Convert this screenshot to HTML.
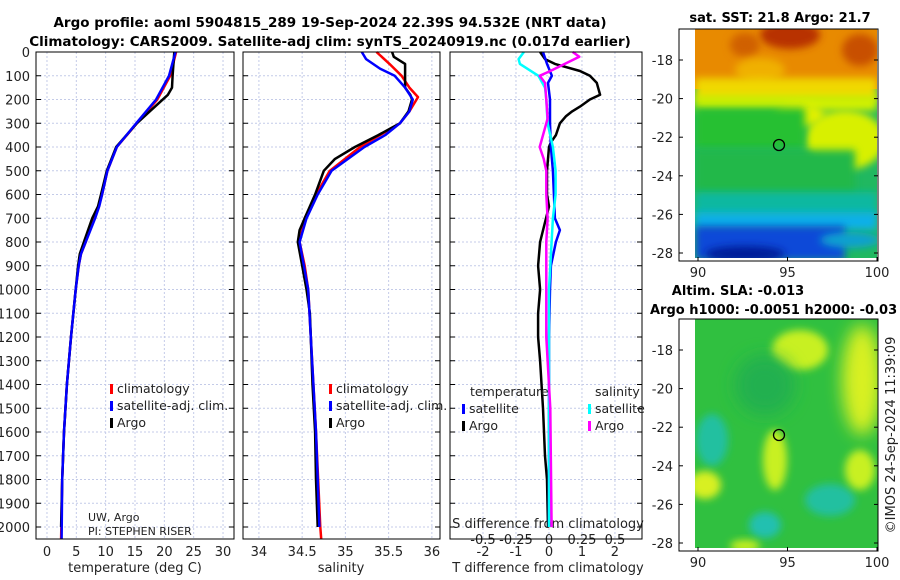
<!DOCTYPE html>
<html><head><meta charset="utf-8"><style>
body{margin:0;background:#fff;}
svg{display:block;font-family:"DejaVu Sans","Liberation Sans",sans-serif;}
</style></head><body>
<svg id="c" width="900" height="580" viewBox="0 0 900 580">
<defs>
<filter id="bl" x="-50%" y="-50%" width="200%" height="200%"><feGaussianBlur stdDeviation="4"/></filter>
<filter id="bl2" x="-50%" y="-50%" width="200%" height="200%"><feGaussianBlur stdDeviation="8"/></filter>
<clipPath id="m1"><rect x="695" y="29" width="182" height="229"/></clipPath>
<clipPath id="m2"><rect x="695" y="319" width="183" height="229"/></clipPath>
</defs>
<text x="330" y="27" text-anchor="middle" font-size="13.5" font-weight="bold">Argo profile: aoml 5904815_289 19-Sep-2024 22.39S 94.532E (NRT data)</text>
<text x="330" y="46" text-anchor="middle" font-size="13.5" font-weight="bold">Climatology: CARS2009. Satellite-adj clim: synTS_20240919.nc (0.017d earlier)</text>
<g id="maps">
<g clip-path="url(#m1)">
<rect x="695" y="29" width="182" height="229" fill="#20b860"/>
<rect x="695" y="29" width="182" height="60" fill="#e88a00"/>
<ellipse cx="790" cy="35" rx="30" ry="14" fill="#b83000" filter="url(#bl)"/>
<ellipse cx="745" cy="45" rx="15" ry="12" fill="#d06000" filter="url(#bl)"/>
<ellipse cx="860" cy="50" rx="18" ry="16" fill="#c85000" filter="url(#bl)"/>
<ellipse cx="760" cy="70" rx="25" ry="12" fill="#f0b000" filter="url(#bl)"/>
<rect x="695" y="78" width="182" height="24" fill="#f0d800" filter="url(#bl)"/>
<rect x="695" y="95" width="182" height="16" fill="#d0f000" filter="url(#bl)"/>
<ellipse cx="845" cy="140" rx="40" ry="30" fill="#d8f000" filter="url(#bl)"/>
<ellipse cx="800" cy="115" rx="25" ry="12" fill="#e0f000" filter="url(#bl)"/>
<rect x="695" y="108" width="110" height="40" fill="#28c030" filter="url(#bl)"/>
<rect x="695" y="150" width="160" height="45" fill="#20b848" filter="url(#bl)"/>
<rect x="695" y="192" width="182" height="25" fill="#10b8a0" filter="url(#bl)"/>
<rect x="695" y="212" width="182" height="18" fill="#10b0e8" filter="url(#bl)"/>
<rect x="695" y="226" width="150" height="34" fill="#1048d8" filter="url(#bl)"/>
<ellipse cx="745" cy="254" rx="40" ry="8" fill="#001c98" filter="url(#bl)"/>
<ellipse cx="850" cy="240" rx="30" ry="8" fill="#10a0d0" filter="url(#bl)"/>
</g>
<g clip-path="url(#m2)">
<rect x="695" y="319" width="183" height="229" fill="#30c040"/>
<ellipse cx="800" cy="350" rx="28" ry="20" fill="#c8f020" filter="url(#bl)"/>
<ellipse cx="862" cy="380" rx="20" ry="55" fill="#d8f020" filter="url(#bl2)"/>
<ellipse cx="765" cy="385" rx="30" ry="30" fill="#20b050" filter="url(#bl2)"/>
<ellipse cx="712" cy="440" rx="16" ry="26" fill="#20c0a0" filter="url(#bl)"/>
<ellipse cx="775" cy="460" rx="12" ry="30" fill="#c8f020" filter="url(#bl)"/>
<ellipse cx="705" cy="485" rx="16" ry="14" fill="#d8f020" filter="url(#bl)"/>
<ellipse cx="830" cy="500" rx="25" ry="16" fill="#20c0a0" filter="url(#bl)"/>
<ellipse cx="765" cy="525" rx="16" ry="13" fill="#20c0b0" filter="url(#bl)"/>
<ellipse cx="745" cy="546" rx="15" ry="6" fill="#c8f020" filter="url(#bl)"/>
<ellipse cx="860" cy="470" rx="15" ry="20" fill="#c8f020" filter="url(#bl)"/>
</g>
<rect x="679" y="29" width="199" height="232" fill="none" stroke="#000"/>
<rect x="679" y="319" width="199" height="232" fill="none" stroke="#000"/>
<circle cx="779" cy="145" r="5.5" fill="none" stroke="#000" stroke-width="1.3"/>
<circle cx="779" cy="435" r="5.5" fill="none" stroke="#000" stroke-width="1.3"/>
<text x="780" y="22" text-anchor="middle" font-size="13" font-weight="bold">sat. SST: 21.8 Argo: 21.7</text>
<text x="738" y="295" text-anchor="middle" font-size="13" font-weight="bold">Altim. SLA: -0.013</text>
<text x="650" y="314" font-size="13" font-weight="bold">Argo h1000: -0.0051 h2000: -0.03</text>
<text transform="translate(895,435) rotate(-90)" text-anchor="middle" font-size="13" fill="#222">©IMOS 24-Sep-2024 11:39:09</text>
</g>
</svg>
<script>
// ---- data ----
const depthTicks=[0,100,200,300,400,500,600,700,800,900,1000,1100,1200,1300,1400,1500,1600,1700,1800,1900,2000];
const tTicks=[0,5,10,15,20,25,30];
const sTicks=[34,34.5,35,35.5,36];
const sTickLabels=["34","34.5","35","35.5","36"];
const dTTicks=[-2,-1,0,1,2];
const dSTicks=[-0.5,-0.25,0,0.25,0.5];
const dSTickLabels=["-0.5","-0.25","0","0.25","0.5"];
const argoTDepth=[0,100,150,180,250,300,400,500,600,650,700,800,850,900,1000,1200,1400,1600,1800,2000];
const argoT=[21.7,21.4,21.3,20.6,17.5,15.3,11.8,10.2,9.2,8.7,7.7,6.3,5.6,5.3,4.9,4.1,3.4,2.9,2.6,2.4];
const climTDepth=[0,100,200,300,400,500,600,650,700,800,850,900,1000,1200,1400,1600,1800,2050];
const climT=[22.0,21.0,18.8,15.3,11.9,10.3,9.4,8.8,8.0,6.6,5.8,5.4,4.9,4.1,3.4,2.9,2.6,2.4];
const satT=[21.9,20.8,18.6,15.2,11.9,10.3,9.4,8.9,8.2,6.6,5.8,5.4,4.9,4.1,3.4,2.9,2.6,2.5];
const argoSDepth=[0,20,50,100,150,180,200,250,300,350,400,450,500,600,700,750,800,900,1000,1100,1200,1400,1600,1800,2000];
const argoS=[35.54,35.56,35.69,35.69,35.69,35.75,35.77,35.73,35.63,35.38,35.11,34.88,34.75,34.65,34.53,34.47,34.45,34.50,34.55,34.59,34.60,34.62,34.65,34.66,34.68];
const climSDepth=[0,50,100,150,190,250,300,350,400,500,600,700,800,900,1000,1200,1600,2000,2050];
const climS=[35.36,35.51,35.65,35.74,35.84,35.74,35.63,35.40,35.17,34.82,34.66,34.53,34.47,34.53,34.57,34.60,34.66,34.71,34.72];
const satSDepth=[0,30,70,100,150,200,250,300,350,400,500,600,700,800,900,1000,1600,2000];
const satS=[35.19,35.24,35.40,35.57,35.69,35.78,35.74,35.63,35.46,35.22,34.84,34.68,34.55,34.47,34.52,34.57,34.66,34.70];
const dTArgoDepth=[0,30,50,80,100,130,180,200,230,250,270,300,350,380,400,500,600,650,700,800,900,1000,1100,1200,1300,1500,1700,1800,2000];
const dTArgo=[-0.27,-0.12,0.18,0.94,1.24,1.45,1.55,1.24,0.94,0.70,0.52,0.33,0.21,0.06,0,-0.06,-0.06,0,-0.09,-0.27,-0.33,-0.27,-0.33,-0.33,-0.27,-0.18,-0.12,-0.06,-0.03];
const dTSatDepth=[0,50,100,130,200,300,400,500,600,700,750,800,900,1000,1200,1500,2000];
const dTSat=[-0.18,-0.06,0.09,-0.03,0.03,0.03,0.06,0.12,0.15,0.18,0.33,0.21,0.06,0.03,0,0,0];
const dSSatDepth=[0,30,50,100,150,200,300,400,500,600,700,800,900,1000,1500,2000];
const dSSat=[-0.19,-0.23,-0.22,-0.08,-0.03,-0.02,-0.01,0.03,0.05,0.05,0.03,0.02,0.01,0,0,0];
const dSArgoDepth=[0,20,50,80,100,130,200,280,300,400,450,500,600,700,800,1000,1200,1500,2000];
const dSArgo=[0.18,0.23,0.12,0.01,-0.07,-0.03,-0.02,-0.01,-0.02,-0.07,-0.04,-0.02,-0.02,-0.01,-0.02,-0.02,-0.02,0.01,0.02];
const mapLatTicks=[-18,-20,-22,-24,-26,-28];
const mapLonTicks=[90,95,100];
// ---- layout ----
const NS="http://www.w3.org/2000/svg";
const svg=document.getElementById('c');
const Y0=52,Y1=539;
const y=d=>Y0+d*(527-52)/2000;
const panels=[{x0:36,x1:234,lo:-1.87,hi:31.87},{x0:243,x1:440,lo:33.816,hi:36.094},{x0:450,x1:642,lo:-3.0,hi:2.82}];
const sx=(p,v)=>p.x0+(v-p.lo)/(p.hi-p.lo)*(p.x1-p.x0);
function mk(tag,attrs,parent){const e=document.createElementNS(NS,tag);for(const k in attrs)e.setAttribute(k,attrs[k]);(parent||svg).appendChild(e);return e;}
function line(p,xs,ds,col,w,name){
  const pts=xs.map((v,i)=>sx(p,v).toFixed(1)+','+y(ds[i]).toFixed(1)).join(' ');
  const e=mk('polyline',{points:pts,fill:'none',stroke:col,'stroke-width':w,'stroke-linejoin':'round'});
  
  
}
function txt(x,yy,s,attrs,name){const e=mk('text',Object.assign({x:x,y:yy,'font-size':13,fill:'#222'},attrs||{}));e.textContent=s;
  
  
  return e;}
panels.forEach((p,pi)=>{
  const g=mk('g',{});
  
  
  depthTicks.forEach(d=>mk('line',{x1:p.x0,x2:p.x1,y1:y(d),y2:y(d),stroke:'#c4cbe8','stroke-width':1,'stroke-dasharray':'2,2'},g));
  let vt = pi==0?tTicks:pi==1?sTicks:dTTicks;
  vt.forEach(v=>mk('line',{x1:sx(p,v),x2:sx(p,v),y1:Y0,y2:Y1,stroke:'#c4cbe8','stroke-width':1,'stroke-dasharray':'2,2'},g));
  depthTicks.forEach(d=>{mk('line',{x1:p.x0,x2:p.x0+5,y1:y(d),y2:y(d),stroke:'#000'},g);mk('line',{x1:p.x1-5,x2:p.x1,y1:y(d),y2:y(d),stroke:'#000'},g);});
});
depthTicks.forEach(d=>txt(30,y(d)+5,String(d),{'text-anchor':'end'},'depth-tick-label'));
tTicks.forEach(v=>txt(sx(panels[0],v),556,String(v),{'text-anchor':'middle'},'temp-tick-label'));
sTicks.forEach((v,i)=>txt(sx(panels[1],v),556,sTickLabels[i],{'text-anchor':'middle'},'salinity-tick-label'));
dTTicks.forEach(v=>txt(sx(panels[2],v),556,String(v),{'text-anchor':'middle'},'tdiff-tick-label'));
dSTicks.forEach((v,i)=>txt(sx(panels[2],v*4),544,dSTickLabels[i],{'text-anchor':'middle'},'sdiff-tick-label'));
txt(135,572,'temperature (deg C)',{'text-anchor':'middle'},'temperature-axis-title');
txt(341,572,'salinity',{'text-anchor':'middle'},'salinity-axis-title');
txt(548,572,'T difference from climatology',{'text-anchor':'middle'},'tdiff-axis-title');
txt(548,528,'S difference from climatology',{'text-anchor':'middle'},'sdiff-axis-title');
txt(88,521,'UW, Argo',{'font-size':11},'institution-label');
txt(88,535,'PI: STEPHEN RISER',{'font-size':11},'pi-label');
const P=panels;
line(P[0],climT,climTDepth,'#f00',2.5,'temp-climatology-line');
line(P[0],argoT,argoTDepth,'#000',2.5,'temp-argo-line');
line(P[0],satT,climTDepth,'#00f',2.5,'temp-satellite-line');
line(P[1],climS,climSDepth,'#f00',2.5,'salinity-climatology-line');
line(P[1],argoS,argoSDepth,'#000',2.5,'salinity-argo-line');
line(P[1],satS,satSDepth,'#00f',2.5,'salinity-satellite-line');
line(P[2],dTArgo,dTArgoDepth,'#000',2.5,'tdiff-argo-line');
line(P[2],dTSat,dTSatDepth,'#00f',2.5,'tdiff-satellite-line');
line(P[2],dSSat.map(v=>v*4),dSSatDepth,'#0ff',2.5,'sdiff-satellite-line');
line(P[2],dSArgo.map(v=>v*4),dSArgoDepth,'#f0f',2.5,'sdiff-argo-line');
panels.forEach((p,pi)=>{const r=mk('rect',{x:p.x0,y:Y0,width:p.x1-p.x0,height:Y1-Y0,fill:'none',stroke:'#000'});
  
  });
function leg(x,yy,col,label,name){mk('rect',{x:x,y:yy-8,width:3,height:10,fill:col});txt(x+7,yy+1,label,{'font-size':12.5},name);}
[[110,'1'],[329,'2']].forEach(([lx,k])=>{leg(lx,392,'#f00','climatology','legend-climatology-'+k);leg(lx,409,'#00f','satellite-adj. clim.','legend-satellite-'+k);leg(lx,426,'#000','Argo','legend-argo-'+k);});
txt(470,396,'temperature',{'font-size':12.5},'legend-temperature-header');
leg(462,412,'#00f','satellite','legend-t-satellite');
leg(462,429,'#000','Argo','legend-t-argo');
txt(595,396,'salinity',{'font-size':12.5},'legend-salinity-header');
leg(588,412,'#0ff','satellite','legend-s-satellite');
leg(588,429,'#f0f','Argo','legend-s-argo');
const mx=v=>698+(v-90)*17.9;
[[60,253,261,'sst'],[350,543,551,'sla']].forEach(([a,b,bot,n])=>{
  mapLatTicks.forEach((lat,i)=>{const yy=a+(b-a)*(-18-lat)/10;
    mk('line',{x1:679,x2:683,y1:yy,y2:yy,stroke:'#000'});mk('line',{x1:874,x2:878,y1:yy,y2:yy,stroke:'#000'});
    txt(673,yy+5,String(lat),{'text-anchor':'end'},n+'-lat-label');});
  mapLonTicks.forEach(lon=>{mk('line',{x1:mx(lon),x2:mx(lon),y1:bot,y2:bot-4,stroke:'#000'});
    txt(mx(lon),bot+16,String(lon),{'text-anchor':'middle'},n+'-lon-label');});
});
</script>
</body></html>
